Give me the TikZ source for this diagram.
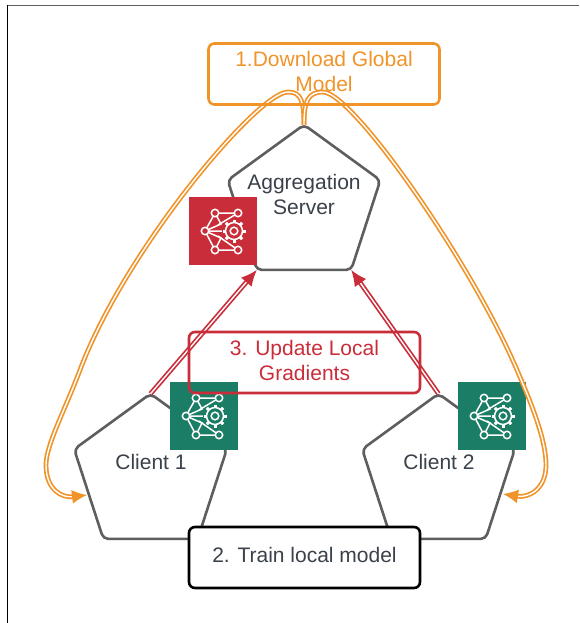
\documentclass[tikz,border=0pt]{standalone}
\usepackage{fontspec}
\setmainfont{Liberation Sans}
\usepackage{xcolor}
\usepackage{tikz}
\usetikzlibrary{arrows.meta}
\usetikzlibrary{shapes.geometric}
\definecolor{orangeline}{HTML}{F0942A}
\definecolor{redline}{HTML}{C92D39}
\definecolor{greenicon}{HTML}{1B7D66}
\definecolor{grayline}{HTML}{5E5E5E}
\definecolor{grayfont}{HTML}{3A414A}
\tikzset{
    pentagon/.style={draw=grayline, line width=2.6pt, regular polygon, regular polygon sides=5, minimum size=160.5pt, inner sep=0pt, outer sep=0pt, rounded corners=5pt},
    pentalabel/.style={text=grayfont, align=center, font=\fontsize{21}{25}\selectfont},
    stepbox/.style={line width=2.6pt, rounded corners=6pt, minimum width=231pt, minimum height=61pt, inner sep=0pt, align=center, text depth=5pt, font=\fontsize{21}{25}\selectfont},
    iconbox/.style={minimum size=68pt, inner sep=0pt, outer sep=0pt},
    orangeflow/.style={draw=orangeline, line width=1.7pt, double=white, double distance=1.4pt, -{Latex[length=15pt,width=14pt,fill=orangeline]}},
    redflow/.style={draw=redline, line width=1.7pt, double=white, double distance=1.4pt, -{Latex[length=16pt,width=14pt,fill=redline]}},
    pics/brainicon/.style={code={
        \draw[white, line width=1.5pt] (-18,0) -- (-8,-18) -- (15,-18) -- (-5,-6);
        \draw[white, line width=1.5pt] (-8,-18) -- (-2,-7) -- (-18,0) -- (1,0);
        \draw[white, line width=1.5pt] (-18,0) -- (-8,19) -- (15,19) -- (-5,5);
        \draw[white, line width=1.5pt] (-8,19) -- (-2,7) -- (-18,0);
        \fill[#1] (11,0) circle[radius=12];
        \foreach \ang in {0,45,...,315}
            \draw[white, line width=3pt, rotate around={\ang:(11,0)}] (19,0) -- (22.5,0);
        \draw[white, line width=1.5pt] (11,0) circle[radius=8.5];
        \draw[white, line width=1.5pt] (11,0) circle[radius=3.8];
        \foreach \nx/\ny in {-8/-18, 15/-18, -18/0, -8/19, 15/19}
            \draw[white, fill=#1, line width=1.5pt] (\nx,\ny) circle[radius=3.7];
    }}
}

\begin{document}
\begin{tikzpicture}[x=1pt, y=-1pt]
        \useasboundingbox (0,0) rectangle (579,623);
        \fill[white] (0,0) rectangle (579,623);
        \draw[black, line width=1.2pt] (7.5,623) -- (7.5,5.5);
        \draw[grayline, line width=1.2pt] (7.5,5.5) -- (579,5.5);

        \node[pentagon] (server) at (304,205) {};
        \node[pentagon] (client1) at (150.5,474) {};
        \node[pentagon] (client2) at (438.5,474) {};
        \node[pentalabel] (serverlabel) at (304,194) {Aggregation\\Server};
        \node[pentalabel] (client1label) at (151,462) {Client 1};
        \node[pentalabel] (client2label) at (439,462) {Client 2};

        \node[iconbox, fill=redline] (servericon) at (223,231) {};
        \node[iconbox, fill=greenicon] (client1icon) at (204,416) {};
        \node[iconbox, fill=greenicon] (client2icon) at (492,416) {};
        \pic at (servericon) {brainicon=redline};
        \pic at (client1icon) {brainicon=greenicon};
        \pic at (client2icon) {brainicon=greenicon};

        \coordinate (client1in) at (87,495);
        \coordinate (client2in) at (503,494);
        \draw[orangeflow] (server.corner 1) .. controls (304,101) and (301,92) .. (288,92)
            .. controls (258,92) and (125,250) .. (80,370)
            .. controls (65,410) and (46,445) .. (46,465)
            .. controls (46,490) and (62,498) .. (client1in);
        \draw[orangeflow] (server.corner 1) .. controls (304,101) and (308,92) .. (323,92)
            .. controls (352,92) and (470,260) .. (517,370)
            .. controls (532,405) and (546,440) .. (546,465)
            .. controls (546,490) and (528,498) .. (client2in);
        \draw[redflow] (client1.corner 1) -- (server.corner 3);
        \draw[redflow] (client2.corner 1) -- (server.corner 4);

        \node[stepbox, draw=orangeline, text=orangeline] (download) at (324,74) {1.Download Global\\Model};
        \node[stepbox, draw=redline, text=redline] (update) at (304.5,362.5) {3. Update Local\\Gradients};
        \node[stepbox, draw=black, fill=white, text=grayfont] (train) at (304.5,557.5) {2. Train local model};
    \end{tikzpicture}
\end{document}
